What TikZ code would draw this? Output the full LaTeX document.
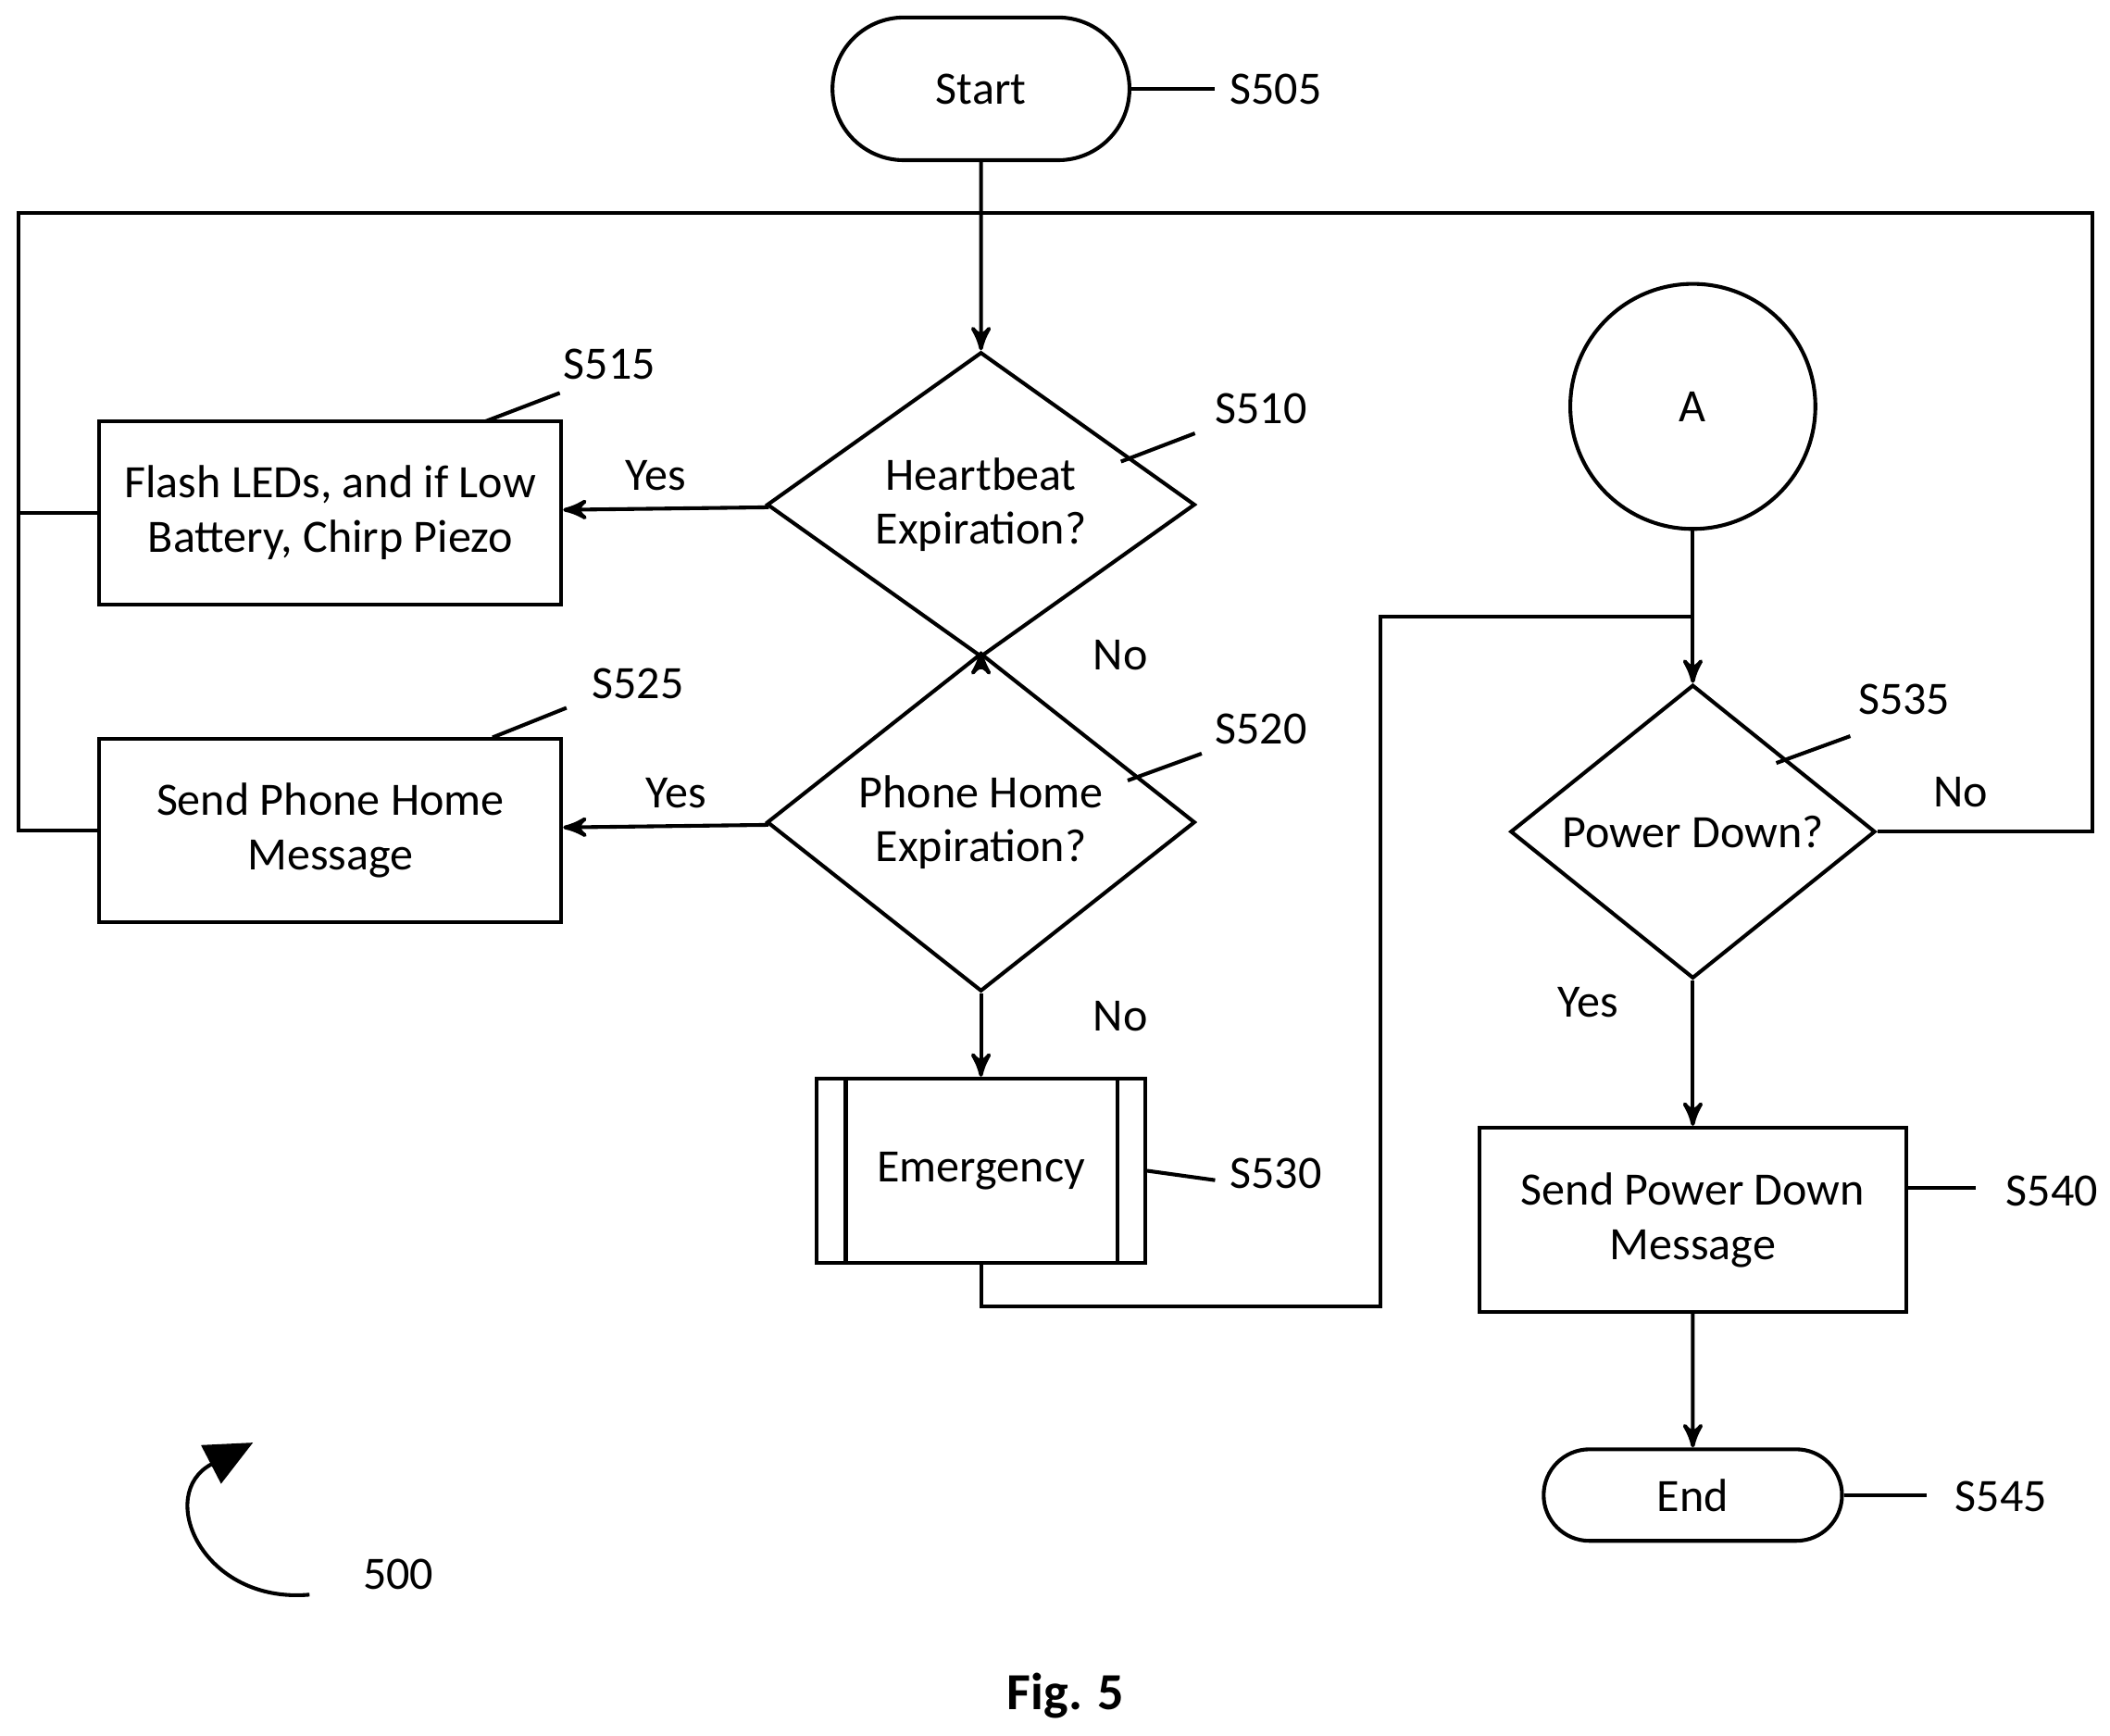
\documentclass[tikz,border=0pt]{standalone}
\usepackage{fontspec}
\setmainfont{Carlito}
\usetikzlibrary{arrows,arrows.meta,calc,positioning}
\usetikzlibrary{shapes.geometric,shapes.misc}
\tikzset{
    %Define standard arrow tip
    >=stealth',
    %Define style for boxes
    box/.style={
           rectangle,
           draw=black, thick,
           minimum width=3.43cm,
           minimum height=1.36cm,
           align=center},
    term/.style={
           rounded rectangle,
           draw=black, thick,
           minimum width=2.44cm},
    ask/.style={
           diamond,
           draw=black, thick,
           inner sep=0pt,
           minimum width=3.18cm,
           minimum height=1.8cm,
           align=center},
    ref/.style={anchor=center},
    % Define arrow style
    pil/.style={
           ->,
           thick}
}
\begin{document}
\begin{tikzpicture}[x=0.01cm,y=-0.01cm,font=\fontsize{9.8}{11.5}\selectfont]
 \useasboundingbox (0,0) rectangle (1568,1290);

 %Left column
 \node[term,minimum height=1.06cm] (start) at (729,66) {Start};
 \node[ask] (hb) at (729,375) {Heartbeat\\Expiration?};
 \node[ask] (ph) at (729,611) {Phone Home\\Expiration?};
 \node[box,minimum width=2.44cm,minimum height=1.37cm] (em) at (729,870) {Emergency};
 \draw[thick] ($(em.north west)+(23,0)$) -- ($(em.south west)+(23,0)$);
 \draw[thick] ($(em.north east)+(-22,0)$) -- ($(em.south east)+(-22,0)$);
 \node[box] (flash) at (245.5,381) {Flash LEDs, and if Low\\Battery, Chirp Piezo};
 \node[box] (send) at (245.5,617) {Send Phone Home\\Message};

 %Right column
 \node[circle,draw,thick,minimum size=1.82cm] (a) at (1258,302) {A};
 \node[ask,minimum width=2.71cm] (pd) at (1258,618) {Power Down?};
 \node[box,minimum width=3.17cm,minimum height=1.37cm] (spd) at (1258,906.5) {Send Power Down\\Message};
 \node[term,minimum width=2.45cm,minimum height=0.68cm] (end) at (1258,1111) {End};

 %Helper points
 \coordinate (tl) at (14,158);
 \coordinate (tr) at (1555,158);
 \coordinate (ml) at (14,381);
 \coordinate (bl) at (14,617);
 \coordinate (join) at (1258,458);

 %Connectors
 \draw[pil] (start) -- (hb);
 \draw[pil] (hb) -- node[above,pos=0.55] {Yes} (flash);
 \draw[pil] (hb) -- node[right=20pt] {No} (ph);
 \draw[pil] (ph) -- node[above,pos=0.45] {Yes} (send);
 \draw[pil] (ph) -- node[right=20pt,pos=0.27] {No} (em);
 \draw[thick] (send.west) -- (bl) -- (tl) -- (tr) -- (tr |- pd.east) -- (pd.east);
 \node at (1457,589) {No};
 \draw[thick] (flash.west) -- (ml);
 \draw[thick] (em.south) -- (729,971) -- (1026,971) -- (1026,458) -- (join);
 \draw[pil] (a) -- (pd);
 \draw[pil] (pd) -- node[left=12pt,pos=0.15] {Yes} (spd);
 \draw[pil] (spd) -- (end);

 %Reference labels
 \draw[thick] (start.east) -- (903,66);
 \node[ref] at (948,66) {S505};
 \draw[thick] (833,343) -- (888,322);
 \node[ref] at (937,304) {S510};
 \draw[thick] (361,313) -- (416,292);
 \node[ref] at (453,271) {S515};
 \draw[thick] (838,580) -- (893,560);
 \node[ref] at (937,542) {S520};
 \draw[thick] (366,548) -- (421,526);
 \node[ref] at (474,508) {S525};
 \draw[thick] (em.east) -- (903,877);
 \node[ref] at (948,872) {S530};
 \draw[thick] (1320,567) -- (1375,547);
 \node[ref] at (1415,520) {S535};
 \draw[thick] (spd.east |- 0,883) -- (1468,883);
 \node[ref] at (1525,885) {S540};
 \draw[thick] (end.east) -- (1432,1111);
 \node[ref] at (1487,1112) {S545};

 %Figure number
 \draw[thick,-{Triangle[width=9pt,length=10pt]}] (230,1185) .. controls (150,1192) and (115,1110) .. (188,1072);
 \node at (296,1170) {500};
 \node[font=\fontsize{11}{13}\selectfont\bfseries] at (792,1260) {Fig. 5};
\end{tikzpicture}
\end{document}
